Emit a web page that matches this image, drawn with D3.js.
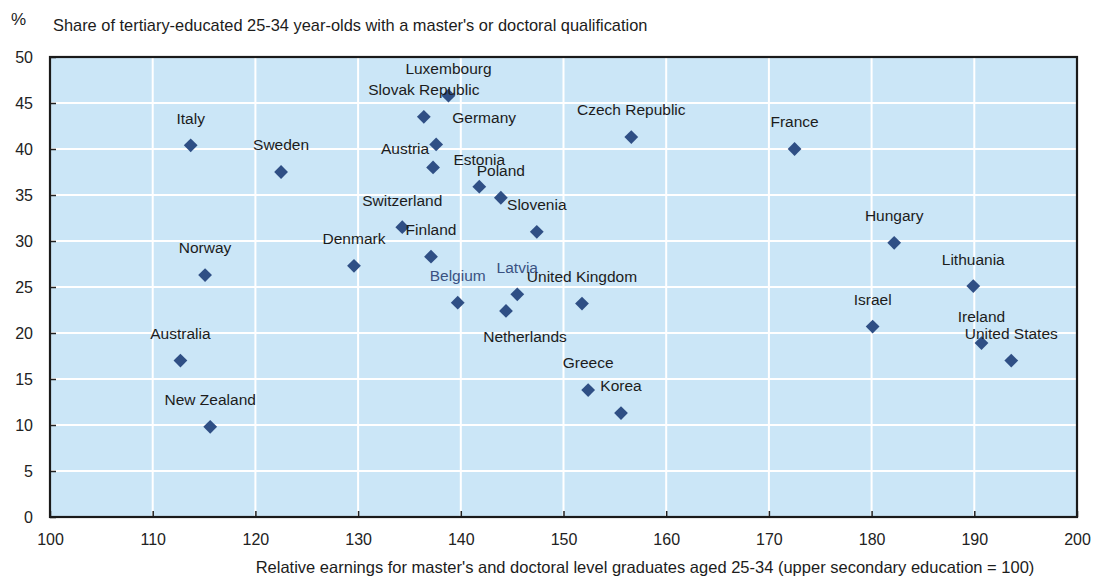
<!DOCTYPE html>
<html><head><meta charset="utf-8">
<script src="https://cdn.jsdelivr.net/npm/d3@7"></script>
<style>
html,body{margin:0;padding:0;background:#fff;}
svg{display:block;font-family:"Liberation Sans",Arial,sans-serif;}
</style></head>
<body><svg id="c" width="1095" height="580"></svg>
<script>
const countries = ["Italy","Sweden","Luxembourg","Slovak Republic","Germany","Austria","Estonia","Poland","Slovenia","Switzerland","Finland","Denmark","Norway","Belgium","Latvia","United Kingdom","Netherlands","Greece","Korea","Australia","New Zealand","Czech Republic","France","Hungary","Lithuania","Israel","Ireland","United States"];
const relEarnings = [113.7,122.5,138.8,136.4,137.6,137.3,141.8,143.9,147.4,134.3,137.1,129.6,115.1,139.7,145.5,151.8,144.4,152.4,155.6,112.7,115.6,156.6,172.5,182.2,189.9,180.1,190.7,193.6];
const shareMaster = [40.4,37.5,45.8,43.5,40.5,38.0,35.9,34.7,31.0,31.5,28.3,27.3,26.3,23.3,24.2,23.2,22.4,13.8,11.3,17.0,9.8,41.3,40.0,29.8,25.1,20.7,18.9,17.0];
const xTicks = [100,110,120,130,140,150,160,170,180,190,200];
const yTicks = [0,5,10,15,20,25,30,35,40,45,50];
const yUnit = "%";
const title = "Share of tertiary-educated 25-34 year-olds with a master's or doctoral qualification";
const xTitle = "Relative earnings for master's and doctoral level graduates aged 25-34 (upper secondary education = 100)";

// label placement (pixel offsets of label centre from marker)
const labelOffsets = {"Germany":[48,-27],"Austria":[-28,-19],"Netherlands":[19,26]};
const blueLabels = ["Belgium","Latvia"];

const svg = d3.select("#c");
const L=50, R=1077, T=57, B=517;
const x = d3.scaleLinear().domain([100,200]).range([L,R]);
const y = d3.scaleLinear().domain([0,50]).range([B,T]);

svg.append("rect").attr("x",L).attr("y",T).attr("width",R-L).attr("height",B-T).attr("fill","#cbe6f7");

// grid
svg.append("g").selectAll("line").data(xTicks.slice(1,-1)).join("line")
  .attr("x1",d=>x(d)).attr("x2",d=>x(d)).attr("y1",T).attr("y2",B)
  .attr("stroke","#fff").attr("stroke-width",2);
svg.append("g").selectAll("line").data(yTicks.slice(1,-1)).join("line")
  .attr("x1",L).attr("x2",R).attr("y1",d=>y(d)).attr("y2",d=>y(d))
  .attr("stroke","#fff").attr("stroke-width",2);

// axes
const xAxis = svg.append("g").attr("transform",`translate(0,${B})`)
  .call(d3.axisBottom(x).tickValues(xTicks).tickSizeInner(-6).tickSizeOuter(0).tickPadding(17));
const yAxis = svg.append("g").attr("transform",`translate(${L},0)`)
  .call(d3.axisLeft(y).tickValues(yTicks).tickSizeInner(-6).tickSizeOuter(0).tickPadding(17));
[xAxis,yAxis].forEach(a=>{
  a.select(".domain").remove();
  a.selectAll(".tick line").attr("stroke","#222").attr("stroke-width",1.5);
  a.selectAll(".tick text").attr("fill","#222").style("font-size","16px").style("font-family","'Liberation Sans',Arial,sans-serif");
});
// frame
svg.append("rect").attr("x",L).attr("y",T).attr("width",R-L).attr("height",B-T)
  .attr("fill","none").attr("stroke","#1a1a1a").attr("stroke-width",2.2);

// points
const data = countries.map((c,i)=>({name:c,x:relEarnings[i],y:shareMaster[i]}));
svg.append("g").selectAll("path").data(data).join("path")
  .attr("d",d3.symbol(d3.symbolSquare,95))
  .attr("transform",d=>`translate(${x(d.x)},${y(d.y)}) rotate(45)`)
  .attr("fill","#2f4f85");

svg.append("g").selectAll("text").data(data).join("text")
  .attr("x",d=>x(d.x)+(labelOffsets[d.name]||[0,-27])[0])
  .attr("y",d=>y(d.y)+(labelOffsets[d.name]||[0,-27])[1])
  .attr("dy","0.35em").attr("text-anchor","middle")
  .style("font-size","15.5px")
  .attr("fill",d=>blueLabels.includes(d.name)?"#3a5282":"#1c1c1c")
  .text(d=>d.name);

// titles
svg.append("text").attr("x",11).attr("y",25).style("font-size","17px").attr("fill","#1c1c1c").text(yUnit);
svg.append("text").attr("x",53).attr("y",31).style("font-size","16.4px").attr("fill","#1c1c1c").text(title);
svg.append("text").attr("x",645).attr("y",573).attr("text-anchor","middle").style("font-size","16.5px").attr("fill","#1c1c1c").text(xTitle);
</script></body></html>
